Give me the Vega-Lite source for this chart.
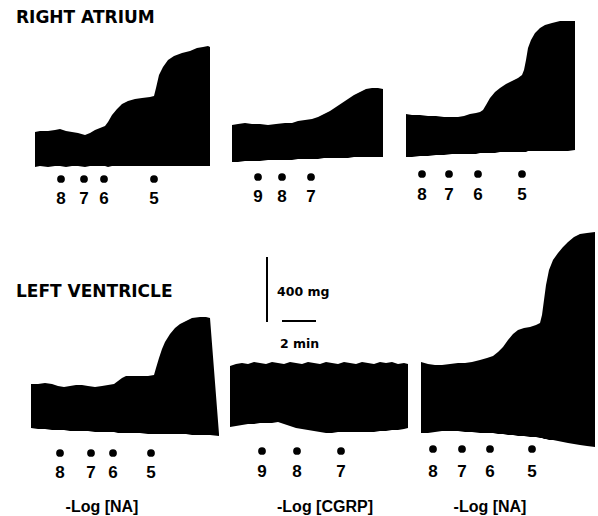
{
  "$schema": "https://vega.github.io/schema/vega-lite/v6.json",
  "width": 598,
  "height": 516,
  "autosize": {"type": "fit", "contains": "padding"},
  "padding": 0,
  "background": "white",
  "config": {"view": {"stroke": null}},
  "datasets": {
    "traces": [
      {"panel":"RA-NA-1","x":35,"top":132,"bottom":167},{"panel":"RA-NA-1","x":40,"top":131,"bottom":166},{"panel":"RA-NA-1","x":48,"top":131,"bottom":167},{"panel":"RA-NA-1","x":55,"top":130,"bottom":166},{"panel":"RA-NA-1","x":60,"top":129,"bottom":166},{"panel":"RA-NA-1","x":66,"top":131,"bottom":167},{"panel":"RA-NA-1","x":72,"top":132,"bottom":166},{"panel":"RA-NA-1","x":78,"top":133,"bottom":166},{"panel":"RA-NA-1","x":85,"top":135,"bottom":167},{"panel":"RA-NA-1","x":90,"top":133,"bottom":166},{"panel":"RA-NA-1","x":95,"top":130,"bottom":166},{"panel":"RA-NA-1","x":100,"top":128,"bottom":166},{"panel":"RA-NA-1","x":105,"top":126,"bottom":166},{"panel":"RA-NA-1","x":108,"top":122,"bottom":167},{"panel":"RA-NA-1","x":112,"top":115,"bottom":166},{"panel":"RA-NA-1","x":117,"top":109,"bottom":166},{"panel":"RA-NA-1","x":122,"top":104,"bottom":166},{"panel":"RA-NA-1","x":128,"top":101,"bottom":166},{"panel":"RA-NA-1","x":135,"top":99,"bottom":166},{"panel":"RA-NA-1","x":142,"top":98,"bottom":166},{"panel":"RA-NA-1","x":150,"top":97,"bottom":166},{"panel":"RA-NA-1","x":154,"top":96,"bottom":166},{"panel":"RA-NA-1","x":156,"top":88,"bottom":166},{"panel":"RA-NA-1","x":159,"top":75,"bottom":166},{"panel":"RA-NA-1","x":163,"top":67,"bottom":166},{"panel":"RA-NA-1","x":168,"top":60,"bottom":166},{"panel":"RA-NA-1","x":174,"top":56,"bottom":166},{"panel":"RA-NA-1","x":182,"top":53,"bottom":166},{"panel":"RA-NA-1","x":190,"top":51,"bottom":166},{"panel":"RA-NA-1","x":197,"top":48,"bottom":166},{"panel":"RA-NA-1","x":203,"top":47,"bottom":166},{"panel":"RA-NA-1","x":208,"top":46,"bottom":166},{"panel":"RA-NA-1","x":210,"top":47,"bottom":166},

      {"panel":"RA-CGRP","x":232,"top":125,"bottom":162},{"panel":"RA-CGRP","x":238,"top":124,"bottom":162},{"panel":"RA-CGRP","x":245,"top":123,"bottom":161},{"panel":"RA-CGRP","x":252,"top":124,"bottom":161},{"panel":"RA-CGRP","x":260,"top":124,"bottom":161},{"panel":"RA-CGRP","x":268,"top":125,"bottom":160},{"panel":"RA-CGRP","x":276,"top":124,"bottom":160},{"panel":"RA-CGRP","x":285,"top":123,"bottom":160},{"panel":"RA-CGRP","x":292,"top":123,"bottom":160},{"panel":"RA-CGRP","x":298,"top":121,"bottom":159},{"panel":"RA-CGRP","x":305,"top":120,"bottom":159},{"panel":"RA-CGRP","x":312,"top":119,"bottom":159},{"panel":"RA-CGRP","x":318,"top":117,"bottom":159},{"panel":"RA-CGRP","x":324,"top":114,"bottom":158},{"panel":"RA-CGRP","x":330,"top":111,"bottom":158},{"panel":"RA-CGRP","x":336,"top":107,"bottom":158},{"panel":"RA-CGRP","x":342,"top":103,"bottom":158},{"panel":"RA-CGRP","x":348,"top":99,"bottom":158},{"panel":"RA-CGRP","x":354,"top":95,"bottom":157},{"panel":"RA-CGRP","x":360,"top":92,"bottom":157},{"panel":"RA-CGRP","x":366,"top":89,"bottom":157},{"panel":"RA-CGRP","x":372,"top":88,"bottom":157},{"panel":"RA-CGRP","x":378,"top":88,"bottom":157},{"panel":"RA-CGRP","x":383,"top":89,"bottom":157},

      {"panel":"RA-NA-2","x":406,"top":114,"bottom":157},{"panel":"RA-NA-2","x":412,"top":115,"bottom":157},{"panel":"RA-NA-2","x":420,"top":115,"bottom":156},{"panel":"RA-NA-2","x":428,"top":116,"bottom":156},{"panel":"RA-NA-2","x":436,"top":116,"bottom":155},{"panel":"RA-NA-2","x":444,"top":117,"bottom":155},{"panel":"RA-NA-2","x":452,"top":117,"bottom":154},{"panel":"RA-NA-2","x":458,"top":117,"bottom":154},{"panel":"RA-NA-2","x":464,"top":116,"bottom":154},{"panel":"RA-NA-2","x":470,"top":114,"bottom":154},{"panel":"RA-NA-2","x":476,"top":113,"bottom":154},{"panel":"RA-NA-2","x":480,"top":112,"bottom":153},{"panel":"RA-NA-2","x":483,"top":110,"bottom":153},{"panel":"RA-NA-2","x":486,"top":105,"bottom":153},{"panel":"RA-NA-2","x":490,"top":98,"bottom":153},{"panel":"RA-NA-2","x":495,"top":92,"bottom":153},{"panel":"RA-NA-2","x":500,"top":88,"bottom":152},{"panel":"RA-NA-2","x":506,"top":84,"bottom":152},{"panel":"RA-NA-2","x":512,"top":81,"bottom":152},{"panel":"RA-NA-2","x":518,"top":78,"bottom":152},{"panel":"RA-NA-2","x":522,"top":75,"bottom":152},{"panel":"RA-NA-2","x":524,"top":70,"bottom":152},{"panel":"RA-NA-2","x":526,"top":60,"bottom":152},{"panel":"RA-NA-2","x":528,"top":48,"bottom":151},{"panel":"RA-NA-2","x":531,"top":40,"bottom":151},{"panel":"RA-NA-2","x":535,"top":33,"bottom":151},{"panel":"RA-NA-2","x":540,"top":28,"bottom":151},{"panel":"RA-NA-2","x":545,"top":25,"bottom":151},{"panel":"RA-NA-2","x":552,"top":23,"bottom":151},{"panel":"RA-NA-2","x":560,"top":21,"bottom":151},{"panel":"RA-NA-2","x":568,"top":21,"bottom":151},{"panel":"RA-NA-2","x":575,"top":21,"bottom":150},

      {"panel":"LV-NA-1","x":31,"top":384,"bottom":428},{"panel":"LV-NA-1","x":38,"top":384,"bottom":429},{"panel":"LV-NA-1","x":45,"top":383,"bottom":429},{"panel":"LV-NA-1","x":52,"top":384,"bottom":430},{"panel":"LV-NA-1","x":58,"top":386,"bottom":430},{"panel":"LV-NA-1","x":64,"top":387,"bottom":430},{"panel":"LV-NA-1","x":70,"top":386,"bottom":431},{"panel":"LV-NA-1","x":76,"top":385,"bottom":431},{"panel":"LV-NA-1","x":82,"top":385,"bottom":431},{"panel":"LV-NA-1","x":88,"top":386,"bottom":431},{"panel":"LV-NA-1","x":95,"top":387,"bottom":432},{"panel":"LV-NA-1","x":102,"top":386,"bottom":432},{"panel":"LV-NA-1","x":108,"top":385,"bottom":432},{"panel":"LV-NA-1","x":114,"top":384,"bottom":432},{"panel":"LV-NA-1","x":118,"top":381,"bottom":433},{"panel":"LV-NA-1","x":122,"top":378,"bottom":433},{"panel":"LV-NA-1","x":126,"top":376,"bottom":433},{"panel":"LV-NA-1","x":132,"top":376,"bottom":433},{"panel":"LV-NA-1","x":140,"top":376,"bottom":433},{"panel":"LV-NA-1","x":148,"top":376,"bottom":434},{"panel":"LV-NA-1","x":154,"top":375,"bottom":434},{"panel":"LV-NA-1","x":156,"top":368,"bottom":434},{"panel":"LV-NA-1","x":159,"top":358,"bottom":434},{"panel":"LV-NA-1","x":162,"top":349,"bottom":434},{"panel":"LV-NA-1","x":165,"top":342,"bottom":434},{"panel":"LV-NA-1","x":170,"top":334,"bottom":434},{"panel":"LV-NA-1","x":175,"top":328,"bottom":434},{"panel":"LV-NA-1","x":180,"top":324,"bottom":434},{"panel":"LV-NA-1","x":186,"top":321,"bottom":434},{"panel":"LV-NA-1","x":192,"top":318,"bottom":435},{"panel":"LV-NA-1","x":200,"top":317,"bottom":435},{"panel":"LV-NA-1","x":206,"top":317,"bottom":435},{"panel":"LV-NA-1","x":210,"top":318,"bottom":435},{"panel":"LV-NA-1","x":219,"top":434,"bottom":436},

      {"panel":"LV-CGRP","x":230,"top":366,"bottom":427},{"panel":"LV-CGRP","x":236,"top":364,"bottom":426},{"panel":"LV-CGRP","x":242,"top":363,"bottom":425},{"panel":"LV-CGRP","x":248,"top":364,"bottom":424},{"panel":"LV-CGRP","x":254,"top":362,"bottom":424},{"panel":"LV-CGRP","x":260,"top":363,"bottom":423},{"panel":"LV-CGRP","x":266,"top":364,"bottom":423},{"panel":"LV-CGRP","x":272,"top":362,"bottom":423},{"panel":"LV-CGRP","x":278,"top":363,"bottom":422},{"panel":"LV-CGRP","x":284,"top":364,"bottom":424},{"panel":"LV-CGRP","x":290,"top":362,"bottom":426},{"panel":"LV-CGRP","x":296,"top":363,"bottom":428},{"panel":"LV-CGRP","x":302,"top":364,"bottom":429},{"panel":"LV-CGRP","x":308,"top":362,"bottom":430},{"panel":"LV-CGRP","x":314,"top":363,"bottom":431},{"panel":"LV-CGRP","x":320,"top":364,"bottom":432},{"panel":"LV-CGRP","x":326,"top":362,"bottom":433},{"panel":"LV-CGRP","x":332,"top":363,"bottom":433},{"panel":"LV-CGRP","x":338,"top":364,"bottom":432},{"panel":"LV-CGRP","x":344,"top":362,"bottom":432},{"panel":"LV-CGRP","x":350,"top":363,"bottom":432},{"panel":"LV-CGRP","x":356,"top":364,"bottom":432},{"panel":"LV-CGRP","x":362,"top":362,"bottom":432},{"panel":"LV-CGRP","x":368,"top":363,"bottom":432},{"panel":"LV-CGRP","x":374,"top":364,"bottom":432},{"panel":"LV-CGRP","x":380,"top":362,"bottom":431},{"panel":"LV-CGRP","x":386,"top":363,"bottom":431},{"panel":"LV-CGRP","x":392,"top":362,"bottom":430},{"panel":"LV-CGRP","x":398,"top":364,"bottom":430},{"panel":"LV-CGRP","x":404,"top":363,"bottom":429},{"panel":"LV-CGRP","x":408,"top":364,"bottom":428},

      {"panel":"LV-NA-2","x":421,"top":362,"bottom":433},{"panel":"LV-NA-2","x":428,"top":364,"bottom":433},{"panel":"LV-NA-2","x":435,"top":365,"bottom":432},{"panel":"LV-NA-2","x":442,"top":365,"bottom":431},{"panel":"LV-NA-2","x":450,"top":364,"bottom":431},{"panel":"LV-NA-2","x":458,"top":363,"bottom":431},{"panel":"LV-NA-2","x":465,"top":363,"bottom":432},{"panel":"LV-NA-2","x":472,"top":362,"bottom":432},{"panel":"LV-NA-2","x":480,"top":360,"bottom":433},{"panel":"LV-NA-2","x":487,"top":358,"bottom":433},{"panel":"LV-NA-2","x":493,"top":356,"bottom":433},{"panel":"LV-NA-2","x":498,"top":352,"bottom":434},{"panel":"LV-NA-2","x":503,"top":347,"bottom":434},{"panel":"LV-NA-2","x":508,"top":340,"bottom":435},{"panel":"LV-NA-2","x":513,"top":334,"bottom":435},{"panel":"LV-NA-2","x":518,"top":330,"bottom":436},{"panel":"LV-NA-2","x":524,"top":328,"bottom":436},{"panel":"LV-NA-2","x":530,"top":327,"bottom":437},{"panel":"LV-NA-2","x":536,"top":325,"bottom":437},{"panel":"LV-NA-2","x":540,"top":323,"bottom":438},{"panel":"LV-NA-2","x":542,"top":315,"bottom":438},{"panel":"LV-NA-2","x":544,"top":300,"bottom":439},{"panel":"LV-NA-2","x":546,"top":285,"bottom":439},{"panel":"LV-NA-2","x":549,"top":270,"bottom":440},{"panel":"LV-NA-2","x":553,"top":260,"bottom":440},{"panel":"LV-NA-2","x":558,"top":253,"bottom":441},{"panel":"LV-NA-2","x":563,"top":247,"bottom":442},{"panel":"LV-NA-2","x":568,"top":242,"bottom":443},{"panel":"LV-NA-2","x":574,"top":237,"bottom":444},{"panel":"LV-NA-2","x":580,"top":234,"bottom":445},{"panel":"LV-NA-2","x":587,"top":233,"bottom":446},{"panel":"LV-NA-2","x":595,"top":232,"bottom":447}
    ],
    "doses": [
      {"x":61,"y":179,"label":"8","ly":199},{"x":84,"y":179,"label":"7","ly":199},{"x":104,"y":179,"label":"6","ly":199},{"x":154,"y":179,"label":"5","ly":199},
      {"x":258,"y":177,"label":"9","ly":197},{"x":282,"y":177,"label":"8","ly":197},{"x":311,"y":177,"label":"7","ly":197},
      {"x":422,"y":174,"label":"8","ly":195},{"x":449,"y":174,"label":"7","ly":195},{"x":478,"y":174,"label":"6","ly":195},{"x":522,"y":174,"label":"5","ly":195},
      {"x":60,"y":453,"label":"8","ly":473},{"x":91,"y":453,"label":"7","ly":473},{"x":113,"y":453,"label":"6","ly":473},{"x":151,"y":453,"label":"5","ly":473},
      {"x":262,"y":451,"label":"9","ly":472},{"x":297,"y":451,"label":"8","ly":472},{"x":341,"y":451,"label":"7","ly":472},
      {"x":433,"y":449,"label":"8","ly":472},{"x":462,"y":449,"label":"7","ly":472},{"x":490,"y":449,"label":"6","ly":472},{"x":532,"y":449,"label":"5","ly":472}
    ],
    "titles": [
      {"x":16,"y":18,"text":"RIGHT ATRIUM"},
      {"x":16,"y":292,"text":"LEFT VENTRICLE"}
    ],
    "captions": [
      {"x":102,"y":507,"text":"-Log [NA]"},
      {"x":325,"y":507,"text":"-Log [CGRP]"},
      {"x":490,"y":507,"text":"-Log [NA]"}
    ],
    "scalebar": [
      {"x":267,"x2":267,"y":257,"y2":322},
      {"x":282,"x2":316,"y":321,"y2":321}
    ],
    "scaletext": [
      {"x":277,"y":292,"text":"400 mg"},
      {"x":280,"y":344,"text":"2 min"}
    ]
  },
  "layer": [
    {
      "data": {"name": "traces"},
      "mark": {"type": "area", "color": "black", "interpolate": "linear"},
      "encoding": {
        "x": {"field": "x", "type": "quantitative", "scale": {"domain": [0, 598], "nice": false, "zero": false}, "axis": null},
        "y": {"field": "top", "type": "quantitative", "scale": {"domain": [0, 516], "nice": false, "zero": false, "reverse": true}, "axis": null},
        "y2": {"field": "bottom"},
        "detail": {"field": "panel", "type": "nominal"}
      }
    },
    {
      "data": {"name": "doses"},
      "mark": {"type": "point", "shape": "circle", "filled": true, "color": "black", "opacity": 1, "size": 60},
      "encoding": {
        "x": {"field": "x", "type": "quantitative"},
        "y": {"field": "y", "type": "quantitative"}
      }
    },
    {
      "data": {"name": "doses"},
      "mark": {"type": "text", "font": "Liberation Sans", "fontWeight": "bold", "fontSize": 17, "align": "center", "baseline": "middle", "color": "black"},
      "encoding": {
        "x": {"field": "x", "type": "quantitative"},
        "y": {"field": "ly", "type": "quantitative"},
        "text": {"field": "label"}
      }
    },
    {
      "data": {"name": "titles"},
      "mark": {"type": "text", "font": "DejaVu Sans", "fontWeight": "bold", "fontSize": 17, "align": "left", "baseline": "middle", "color": "black"},
      "encoding": {
        "x": {"field": "x", "type": "quantitative"},
        "y": {"field": "y", "type": "quantitative"},
        "text": {"field": "text"}
      }
    },
    {
      "data": {"name": "captions"},
      "mark": {"type": "text", "font": "Liberation Sans", "fontWeight": "bold", "fontSize": 16, "align": "center", "baseline": "middle", "color": "black"},
      "encoding": {
        "x": {"field": "x", "type": "quantitative"},
        "y": {"field": "y", "type": "quantitative"},
        "text": {"field": "text"}
      }
    },
    {
      "data": {"name": "scalebar"},
      "mark": {"type": "rule", "color": "black", "strokeWidth": 2},
      "encoding": {
        "x": {"field": "x", "type": "quantitative"},
        "x2": {"field": "x2"},
        "y": {"field": "y", "type": "quantitative"},
        "y2": {"field": "y2"}
      }
    },
    {
      "data": {"name": "scaletext"},
      "mark": {"type": "text", "font": "DejaVu Sans", "fontWeight": "bold", "fontSize": 12.5, "align": "left", "baseline": "middle", "color": "black"},
      "encoding": {
        "x": {"field": "x", "type": "quantitative"},
        "y": {"field": "y", "type": "quantitative"},
        "text": {"field": "text"}
      }
    }
  ]
}
